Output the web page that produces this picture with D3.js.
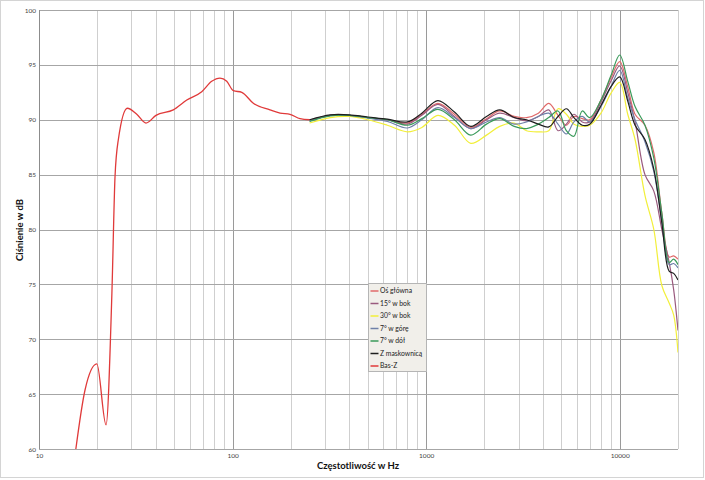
<!DOCTYPE html>
<html><head><meta charset="utf-8">
<script src="https://cdn.jsdelivr.net/npm/d3@7"></script>
<style>body{margin:0;background:#fff}svg{display:block}</style>
</head><body><svg id="c" width="705" height="480"></svg>
<script>
// ---- data ----
const yTicks = [60, 65, 70, 75, 80, 85, 90, 95, 100];
const xTickLabels = [10, 100, 1000, 10000];
const seriesNames = ["Oś główna", "15° w bok", "30° w bok", "7° w górę", "7° w dół", "Z maskownicą", "Bas-Z"];
const seriesColors = ["#e06a6a", "#9a5a7e", "#f2ef3a", "#6f80a8", "#3a9a5a", "#1e1e1e", "#e03a3a"];

const freqs = [250, 320, 400, 500, 630, 800, 950, 1150, 1400, 1700, 2050, 2400, 2850, 3300, 3800, 4300, 4800, 5300, 5800, 6400, 7000, 8000, 9000, 10000, 11000, 12000, 13500, 15000, 16500, 18000, 19000, 20000];
const osGlowna   = [89.95, 90.4, 90.4, 90.2, 90.0, 89.7, 90.5, 91.5, 90.5, 89.3, 90.1, 90.8, 90.3, 90.2, 90.6, 91.5, 90.4, 89.5, 90.3, 90.1, 90.0, 91.8, 93.8, 95.3, 93.0, 90.5, 89.5, 87.0, 81.5, 77.5, 77.6, 77.3];
const bok15      = [89.9, 90.4, 90.4, 90.2, 90.0, 89.6, 90.4, 91.4, 90.3, 89.2, 90.0, 90.6, 90.2, 89.9, 90.3, 90.9, 89.0, 89.6, 90.5, 89.8, 89.8, 91.6, 93.5, 94.9, 92.5, 89.8, 85.0, 83.5, 80.0, 77.0, 74.5, 70.8];
const bok30      = [89.7, 90.2, 90.3, 90.0, 89.5, 88.9, 89.3, 90.4, 89.5, 87.85, 88.6, 89.4, 89.7, 89.0, 88.9, 89.0, 91.0, 90.5, 89.6, 89.4, 89.5, 90.6, 92.4, 93.4, 90.5, 88.2, 83.1, 80.0, 74.9, 73.3, 72.2, 68.8];
const gora7      = [89.9, 90.4, 90.4, 90.15, 89.85, 89.25, 90.0, 91.1, 90.2, 89.2, 89.8, 90.2, 89.6, 89.8, 90.3, 90.6, 89.6, 88.7, 89.8, 90.3, 89.8, 91.2, 93.0, 94.5, 92.0, 90.0, 88.0, 85.3, 80.8, 76.8, 76.9, 76.5];
const dol7       = [89.85, 90.35, 90.4, 90.2, 90.0, 89.5, 90.1, 90.95, 90.0, 88.6, 89.6, 90.1, 89.4, 89.2, 89.6, 90.2, 90.8, 89.0, 88.5, 90.8, 90.2, 91.8, 94.0, 95.9, 93.5, 91.2, 89.5, 86.5, 81.5, 77.0, 77.3, 76.8];
const maskownica = [90.0, 90.45, 90.45, 90.25, 90.05, 89.8, 90.6, 91.75, 90.7, 89.4, 90.3, 90.9, 90.2, 90.0, 89.6, 89.35, 90.3, 91.0, 90.2, 89.5, 89.6, 91.3, 93.0, 93.9, 91.7, 89.5, 88.2, 85.5, 80.6, 76.2, 76.0, 75.4];

const basFreqs = [15.5, 17.3, 19.9, 22.2, 23.8, 24.7, 25.7, 28.6, 32, 35.7, 40.2, 49.4, 58, 69.3, 78, 86.1, 93.3, 101, 111.6, 128, 156, 176, 198, 223, 251];
const basZ     = [60, 65.4, 67.75, 62.2, 74.2, 84.8, 88.2, 91.05, 90.5, 89.7, 90.4, 90.9, 91.8, 92.55, 93.5, 93.8, 93.5, 92.65, 92.5, 91.5, 90.9, 90.6, 90.5, 90.1, 90.0];

// ---- chart ----
const svg = d3.select("#c");
const L = 39, R = 678, T = 10, B = 449;
const FONT = "Lato, 'Open Sans', sans-serif";
const x = d3.scaleLog().domain([10, 20000]).range([L, R]);
const y = d3.scaleLinear().domain([60, 100]).range([B, T]);

svg.append("rect").attr("x", 0.5).attr("y", 0.5).attr("width", 703).attr("height", 477)
  .attr("fill", "#fff").attr("stroke", "#d4d4d4");

// vertical grid
const allX = [];
for (let d = 10; d <= 10000; d *= 10) for (let k = 1; k <= 9; k++) { const v = d * k; if (v <= 20000) allX.push(v); }
allX.push(20000);
const gx = svg.append("g");
allX.forEach(v => {
  const major = Math.abs(Math.log10(v) % 1) < 1e-9;
  gx.append("line").attr("x1", Math.round(x(v)) + 0.5).attr("x2", Math.round(x(v)) + 0.5)
    .attr("y1", T).attr("y2", B)
    .attr("stroke", major ? "#9a9a9a" : "#cfcfcf").attr("stroke-width", 1);
});
// horizontal grid
yTicks.forEach(v => {
  svg.append("line").attr("x1", L).attr("x2", R)
    .attr("y1", Math.round(y(v)) + 0.5).attr("y2", Math.round(y(v)) + 0.5)
    .attr("stroke", "#a6a6a6").attr("stroke-width", 1);
});
svg.append("line").attr("x1", L + 0.5).attr("x2", L + 0.5).attr("y1", T).attr("y2", B).attr("stroke", "#8c8c8c");

// axes labels via d3 axes
const yAxis = d3.axisLeft(y).tickValues(yTicks).tickSize(0).tickPadding(3).tickFormat(d3.format("d"));
const ga = svg.append("g").attr("transform", `translate(${L},0)`).call(yAxis);
ga.select(".domain").remove();
ga.selectAll("text").attr("font-family", FONT).attr("font-size", 6.5).attr("fill", "#444");

const xAxis = d3.axisBottom(x).tickValues(xTickLabels).tickSize(0).tickPadding(4).tickFormat(d3.format("d"));
const gb = svg.append("g").attr("transform", `translate(0,${B})`).call(xAxis);
gb.select(".domain").remove();
gb.selectAll("text").attr("font-family", FONT).attr("font-size", 6.5).attr("fill", "#444");

// titles
svg.append("text").attr("x", 358).attr("y", 469).attr("text-anchor", "middle")
  .attr("font-family", FONT).attr("font-weight", "bold").attr("font-size", 9.5).attr("fill", "#111")
  .text("Częstotliwość w Hz");
svg.append("text").attr("transform", "translate(23,230) rotate(-90)").attr("text-anchor", "middle")
  .attr("font-family", FONT).attr("font-weight", "bold").attr("font-size", 9.5).attr("fill", "#111")
  .text("Ciśnienie w dB");

// lines
svg.append("clipPath").attr("id", "clip").append("rect").attr("x", L).attr("y", T).attr("width", R - L).attr("height", B - T);
const plot = svg.append("g").attr("clip-path", "url(#clip)");
const series = [osGlowna, bok15, bok30, gora7, dol7, maskownica];
const line = d3.line().x(d => x(d[0])).y(d => y(d[1])).curve(d3.curveCatmullRom.alpha(0.5));
plot.append("path").datum(basFreqs.map((f, i) => [f, basZ[i]]))
  .attr("d", d3.line().x(d => x(d[0])).y(d => y(d[1])).curve(d3.curveMonotoneX))
  .attr("fill", "none").attr("stroke", seriesColors[6]).attr("stroke-width", 1.3);
series.forEach((s, k) => {
  plot.append("path").datum(freqs.map((f, i) => [f, s[i]]))
    .attr("d", line).attr("fill", "none").attr("stroke", seriesColors[k]).attr("stroke-width", 1.2);
});

// legend
const lg = svg.append("g").attr("transform", "translate(368.5,283.5)");
lg.append("rect").attr("width", 58).attr("height", 88).attr("fill", "#f1efea").attr("stroke", "#b5b5b5");
seriesNames.forEach((n, i) => {
  const yy = 7.5 + i * 12.5;
  lg.append("line").attr("x1", 2).attr("x2", 10).attr("y1", yy).attr("y2", yy)
    .attr("stroke", seriesColors[i]).attr("stroke-width", 1.5);
  lg.append("text").attr("x", 11.5).attr("y", yy + 2.3)
    .attr("font-family", FONT).attr("font-size", 6.8).attr("fill", "#222").text(n);
});
</script></body></html>
